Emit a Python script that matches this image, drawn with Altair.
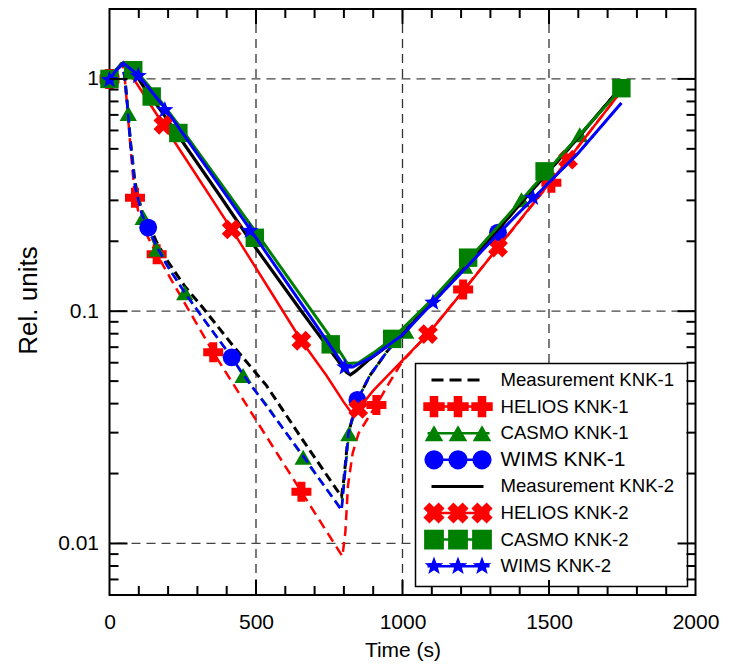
import math
import altair as alt
import pandas as pd

# ---------------- data ----------------
# Measurement KNK-1 (black dashed)
meas1_t = [0, 20, 45, 53, 62, 72, 87, 110, 135, 161, 200, 257, 320, 420, 536, 661, 792, 800, 815, 846, 888, 945, 1000, 1104, 1212, 1332, 1450, 1600, 1752]
meas1_v = [1.0, 1.08, 1.16, 1.0, 0.75, 0.53, 0.36, 0.27, 0.235, 0.198, 0.163, 0.128, 0.103, 0.0714, 0.0478, 0.0277, 0.0159, 0.019, 0.0297, 0.0415, 0.0527, 0.0665, 0.081, 0.110, 0.156, 0.229, 0.34, 0.56, 0.942]

# HELIOS KNK-1 (red dashed, plus markers)
hel1_t = [0, 20, 45, 53, 62, 72, 87, 110, 161, 250, 354, 500, 655, 795, 805, 814, 830, 850, 888, 911, 950, 1000, 1087, 1207, 1326, 1508, 1565, 1741]
hel1_v = [1.0, 1.08, 1.17, 0.98, 0.72, 0.5, 0.308, 0.235, 0.176, 0.112, 0.0665, 0.034, 0.0167, 0.0088, 0.0112, 0.0178, 0.0245, 0.0298, 0.0356, 0.0395, 0.048, 0.061, 0.0797, 0.1225, 0.188, 0.362, 0.449, 0.868]
hel1_mt = [0, 87, 161, 354, 655, 911, 1207, 1508]
hel1_mv = [1.0, 0.308, 0.176, 0.0665, 0.0167, 0.0395, 0.124, 0.357]

# CASMO KNK-1 (green dashed, triangle markers)
cas1_t = [0, 20, 45, 53, 64, 72, 87, 115, 161, 200, 257, 320, 417, 456, 536, 661, 792, 800, 817, 846, 888, 945, 1011, 1104, 1212, 1332, 1406, 1605, 1752]
cas1_v = [1.0, 1.08, 1.16, 0.98, 0.71, 0.53, 0.35, 0.253, 0.185, 0.155, 0.120, 0.093, 0.0635, 0.0528, 0.0395, 0.0235, 0.014, 0.018, 0.0297, 0.0415, 0.0527, 0.0665, 0.082, 0.110, 0.156, 0.229, 0.302, 0.575, 0.94]
cas1_mt = [0, 64, 115, 161, 257, 456, 661, 817, 1011, 1212, 1406, 1605]
cas1_mv = [1.0, 0.71, 0.253, 0.185, 0.120, 0.0528, 0.0235, 0.0297, 0.082, 0.156, 0.302, 0.575]

# WIMS KNK-1 (blue dashed, circle markers)
wim1_t = [0, 20, 45, 53, 62, 72, 87, 110, 132, 161, 200, 257, 320, 417, 456, 536, 661, 792, 800, 815, 846, 888, 945, 1000, 1104, 1212, 1326, 1445, 1600, 1747]
wim1_v = [1.0, 1.08, 1.16, 0.98, 0.74, 0.52, 0.345, 0.262, 0.229, 0.19, 0.155, 0.120, 0.093, 0.0633, 0.0535, 0.039, 0.0238, 0.0139, 0.018, 0.0297, 0.0415, 0.0527, 0.0665, 0.081, 0.109, 0.152, 0.215, 0.305, 0.48, 0.787]
wim1_mt = [0, 132, 417, 846, 1326]
wim1_mv = [1.0, 0.229, 0.0633, 0.0415, 0.218]

# Measurement KNK-2 (black solid)
meas2_t = [0, 20, 40, 55, 80, 120, 184, 371, 479, 650, 809, 822, 840, 888, 950, 996, 1100, 1212, 1332, 1450, 1600, 1752]
meas2_v = [1.0, 1.08, 1.16, 1.16, 1.09, 0.91, 0.705, 0.322, 0.203, 0.102, 0.0545, 0.0532, 0.0552, 0.0622, 0.071, 0.078, 0.110, 0.156, 0.229, 0.34, 0.56, 0.942]

# HELIOS KNK-2 (red solid, x markers)
hel2_t = [0, 20, 47, 100, 184, 300, 417, 550, 655, 741, 800, 826, 850, 900, 1000, 1087, 1200, 1326, 1450, 1565, 1741]
hel2_v = [1.0, 1.09, 1.17, 0.925, 0.635, 0.379, 0.225, 0.1216, 0.0746, 0.0527, 0.0405, 0.0365, 0.038, 0.0455, 0.0614, 0.0797, 0.119, 0.188, 0.295, 0.449, 0.868]
hel2_mt = [0, 184, 417, 655, 849, 1087, 1326, 1565]
hel2_mv = [1.0, 0.635, 0.225, 0.0746, 0.038, 0.0797, 0.188, 0.449]

# CASMO KNK-2 (green solid, square markers)
cas2_t = [0, 20, 47, 81, 144, 235, 496, 755, 812, 850, 900, 965, 1100, 1224, 1485, 1747]
cas2_v = [1.0, 1.09, 1.17, 1.12, 0.9, 0.635, 0.222, 0.077, 0.0595, 0.06, 0.066, 0.076, 0.112, 0.166, 0.39, 0.91]
cas2_mt = [0, 81, 144, 235, 496, 755, 965, 1224, 1485, 1747]
cas2_mv = [1.0, 1.09, 0.84, 0.585, 0.207, 0.072, 0.076, 0.170, 0.400, 0.912]

# WIMS KNK-2 (blue solid, star markers)
wim2_t = [0, 20, 47, 98, 189, 479, 700, 803, 830, 900, 1000, 1104, 1326, 1445, 1600, 1747]
wim2_v = [0.99, 1.08, 1.17, 1.04, 0.75, 0.226, 0.089, 0.0574, 0.0575, 0.064, 0.079, 0.109, 0.215, 0.305, 0.48, 0.787]
wim2_mt = [0, 98, 189, 479, 803, 1104, 1445]
wim2_mv = [0.99, 1.03, 0.735, 0.222, 0.0574, 0.109, 0.308]

# axis / grid / tick values
x_labels = [0, 500, 1000, 1500, 2000]
y_labels = [0.01, 0.1, 1]
x_grid = [500, 1000, 1500]
y_grid = [0.01, 0.1, 1]
x_minor = [100, 200, 300, 400, 600, 700, 800, 900, 1100, 1200, 1300, 1400, 1600, 1700, 1800, 1900]
x_major = [500, 1000, 1500]
y_minor = [0.007, 0.008, 0.009, 0.02, 0.03, 0.04, 0.05, 0.06, 0.07, 0.08, 0.09,
           0.2, 0.3, 0.4, 0.5, 0.6, 0.7, 0.8, 0.9]
y_major = [0.01, 0.1, 1]

legend_labels = ["Measurement KNK-1", "HELIOS KNK-1", "CASMO KNK-1", "WIMS KNK-1",
                 "Measurement KNK-2", "HELIOS KNK-2", "CASMO KNK-2", "WIMS KNK-2"]

# ---------------- styling ----------------
W = H = 586
XMIN, XMAX = 0, 2000
YMIN, YMAX = 0.006, 2
RED, GREEN, BLUE, BLACK = "#ff0000", "#008000", "#0000ff", "#000000"
SANS = "Liberation Sans, Arial, sans-serif"


def star_path(inner=0.42):
    pts = []
    for k in range(10):
        r = 1.0 if k % 2 == 0 else inner
        a = math.radians(-90 + 36 * k)
        pts.append((r * math.cos(a), r * math.sin(a)))
    return "M" + " L".join(f"{x:.4f},{y:.4f}" for x, y in pts) + " Z"


STAR = star_path()

xscale = alt.Scale(domain=[XMIN, XMAX], nice=False, zero=False)
yscale = alt.Scale(type="log", domain=[YMIN, YMAX], nice=False)

xaxis = alt.Axis(values=x_labels, format="d", title="Time (s)", grid=False, ticks=False,
                 domain=False, labelFont=SANS, labelFontSize=21, labelColor="black",
                 labelPadding=16, labelFlush=False, titleFont=SANS, titleFontSize=21,
                 titleFontWeight="normal", titleColor="black", titleY=44,
                 titleBaseline="top")
yaxis = alt.Axis(values=y_labels, format="~g", title="Rel. units", grid=False, ticks=False,
                 domain=False, labelFont=SANS, labelFontSize=21, labelColor="black",
                 labelPadding=11, labelFlush=False, titleFont=SANS, titleFontSize=26,
                 titleFontWeight="normal", titleColor="black", titleX=-81, titleY=291,
                 titleAngle=-90, titleBaseline="middle", titleAlign="center")

XE = alt.X("t:Q", scale=xscale, axis=xaxis)
YE = alt.Y("v:Q", scale=yscale, axis=yaxis)
ONE = pd.DataFrame({"a": [0]})

layers = []

# grid lines
layers.append(alt.Chart(pd.DataFrame({"t": x_grid})).mark_rule(
    color="#333", strokeWidth=1.3, strokeDash=[9, 6]).encode(x=XE))
layers.append(alt.Chart(pd.DataFrame({"v": y_grid})).mark_rule(
    color="#444", strokeWidth=1.3, strokeDash=[9, 6]).encode(y=YE))

series = [
    (meas1_t, meas1_v, None, None, BLACK, [9, 5], 3.0, None, 0),
    (hel1_t, hel1_v, hel1_mt, hel1_mv, RED, [10, 6], 2.5, "cross", 400),
    (cas1_t, cas1_v, cas1_mt, cas1_mv, GREEN, [9, 5], 2.5, "triangle-up", 300),
    (wim1_t, wim1_v, wim1_mt, wim1_mv, BLUE, [9, 5], 2.5, "circle", 320),
    (meas2_t, meas2_v, None, None, BLACK, None, 3.2, None, 0),
    (hel2_t, hel2_v, hel2_mt, hel2_mv, RED, None, 2.5, "x", 400),
    (cas2_t, cas2_v, cas2_mt, cas2_mv, GREEN, None, 3.0, "square", 340),
    (wim2_t, wim2_v, wim2_mt, wim2_mv, BLUE, None, 3.0, "star", 330),
]


def points(df, shape, color, size):
    kw = dict(filled=True, color=color, size=size, opacity=1, strokeWidth=0)
    if shape == "x":
        return alt.Chart(df).mark_point(shape="cross", angle=45, **kw)
    if shape == "star":
        return alt.Chart(df).mark_point(shape=STAR, **kw)
    return alt.Chart(df).mark_point(shape=shape, **kw)


for t, v, mt, mv, color, dash, sw, shape, size in series:
    lk = dict(color=color, strokeWidth=sw)
    if dash:
        lk["strokeDash"] = dash
    layers.append(alt.Chart(pd.DataFrame({"t": t, "v": v})).mark_line(**lk).encode(x=XE, y=YE))
    if mt is not None:
        layers.append(points(pd.DataFrame({"t": mt, "v": mv}), shape, color, size).encode(x=XE, y=YE))

# ---------------- legend (inside the plot, pixel placed) ----------------
layers.append(alt.Chart(ONE).mark_rect(fill="white", stroke="black", strokeWidth=1.5).encode(
    x=alt.value(306), x2=alt.value(578), y=alt.value(354.5), y2=alt.value(577.5)))

ROW0, ROWSTEP = 371, 26.6
SLOTS = [324.5, 348.5, 372.5]
for i, (lab, (t, v, mt, mv, color, dash, sw, shape, size)) in enumerate(zip(legend_labels, series)):
    py = ROW0 + i * ROWSTEP
    if shape is None:
        rk = dict(color=color, strokeWidth=3)
        if dash:
            rk["strokeDash"] = [12, 6]
        layers.append(alt.Chart(ONE).mark_rule(**rk).encode(
            x=alt.value(322), x2=alt.value(374), y=alt.value(py)))
    else:
        layers.append(alt.Chart(ONE).mark_rule(color=color, strokeWidth=2.5).encode(
            x=alt.value(318), x2=alt.value(380), y=alt.value(py)))
        for sx in SLOTS:
            layers.append(points(ONE, shape, color, size * 1.15).encode(
                x=alt.value(sx), y=alt.value(py)))
    fs = 21 if lab == "WIMS KNK-1" else 18.6
    layers.append(alt.Chart(ONE).mark_text(
        align="left", baseline="middle", font=SANS, fontSize=fs, color="black", text=lab).encode(
        x=alt.value(391), y=alt.value(py)))

# ---------------- inward ticks on all four sides ----------------
TK = dict(color="black", strokeWidth=2)
for vals, ln in ((x_minor, 9), (x_major, 15)):
    df = pd.DataFrame({"t": vals})
    layers.append(alt.Chart(df).mark_rule(**TK).encode(
        x=XE, y=alt.value(H), y2=alt.value(H - ln)))
    layers.append(alt.Chart(df).mark_rule(**TK).encode(
        x=XE, y=alt.value(0), y2=alt.value(ln)))
for vals, ln in ((y_minor, 9), (y_major, 18)):
    df = pd.DataFrame({"v": vals})
    layers.append(alt.Chart(df).mark_rule(**TK).encode(
        y=YE, x=alt.value(0), x2=alt.value(ln)))
    layers.append(alt.Chart(df).mark_rule(**TK).encode(
        y=YE, x=alt.value(W), x2=alt.value(W - ln)))

chart = alt.layer(*layers).properties(
    width=W, height=H,
    padding={"left": 101.5, "top": 1, "right": 30, "bottom": 70},
    autosize=alt.AutoSizeParams(type="none"),
).configure_view(stroke="black", strokeWidth=2)

chart.save("out.html", embed_options={"renderer": "svg", "actions": False})
